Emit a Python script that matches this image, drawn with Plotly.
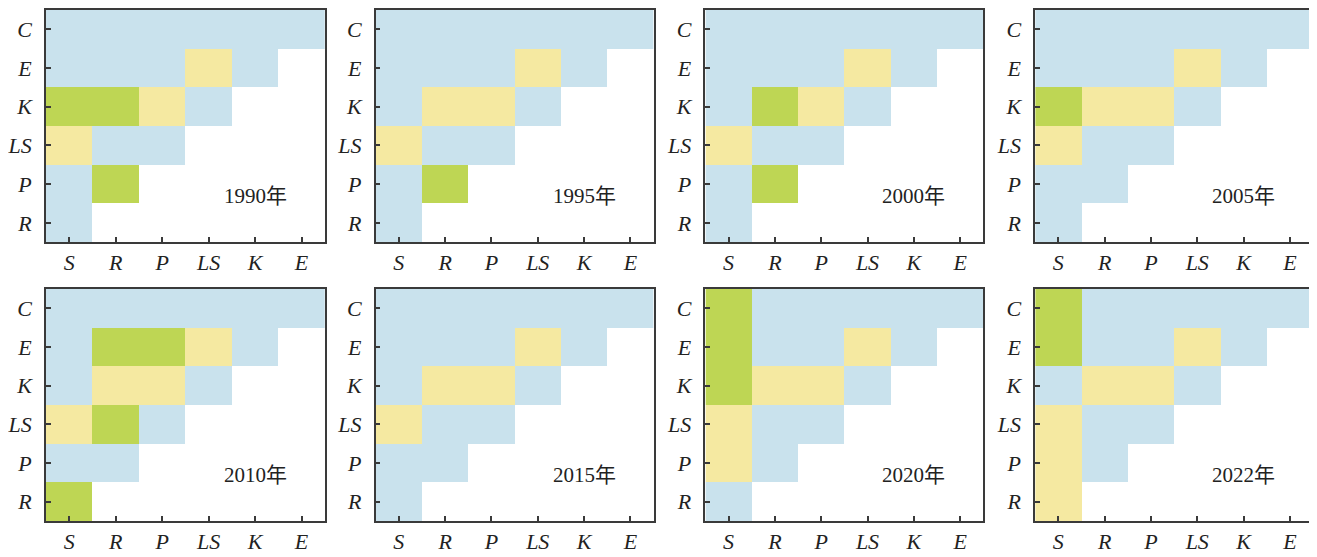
import plotly.graph_objects as go

x_labels = ["S", "R", "P", "LS", "K", "E"]
y_labels = ["C", "E", "K", "LS", "P", "R"]
years = ["1990年", "1995年", "2000年", "2005年", "2010年", "2015年", "2020年", "2022年"]

# 1 = blue, 2 = yellow, 3 = green, None = empty (rows top->bottom: C, E, K, LS, P, R)
N = None
z_1990 = [[1, 1, 1, 1, 1, 1], [1, 1, 1, 2, 1, N], [3, 3, 2, 1, N, N], [2, 1, 1, N, N, N], [1, 3, N, N, N, N], [1, N, N, N, N, N]]
z_1995 = [[1, 1, 1, 1, 1, 1], [1, 1, 1, 2, 1, N], [1, 2, 2, 1, N, N], [2, 1, 1, N, N, N], [1, 3, N, N, N, N], [1, N, N, N, N, N]]
z_2000 = [[1, 1, 1, 1, 1, 1], [1, 1, 1, 2, 1, N], [1, 3, 2, 1, N, N], [2, 1, 1, N, N, N], [1, 3, N, N, N, N], [1, N, N, N, N, N]]
z_2005 = [[1, 1, 1, 1, 1, 1], [1, 1, 1, 2, 1, N], [3, 2, 2, 1, N, N], [2, 1, 1, N, N, N], [1, 1, N, N, N, N], [1, N, N, N, N, N]]
z_2010 = [[1, 1, 1, 1, 1, 1], [1, 3, 3, 2, 1, N], [1, 2, 2, 1, N, N], [2, 3, 1, N, N, N], [1, 1, N, N, N, N], [3, N, N, N, N, N]]
z_2015 = [[1, 1, 1, 1, 1, 1], [1, 1, 1, 2, 1, N], [1, 2, 2, 1, N, N], [2, 1, 1, N, N, N], [1, 1, N, N, N, N], [1, N, N, N, N, N]]
z_2020 = [[3, 1, 1, 1, 1, 1], [3, 1, 1, 2, 1, N], [3, 2, 2, 1, N, N], [2, 1, 1, N, N, N], [2, 1, N, N, N, N], [1, N, N, N, N, N]]
z_2022 = [[3, 1, 1, 1, 1, 1], [3, 1, 1, 2, 1, N], [1, 2, 2, 1, N, N], [2, 1, 1, N, N, N], [2, 1, N, N, N, N], [2, N, N, N, N, N]]
z_all = [z_1990, z_1995, z_2000, z_2005, z_2010, z_2015, z_2020, z_2022]

BLUE = "#c9e2ed"
YELLOW = "#f5e9a1"
GREEN = "#bed654"
colorscale = [[0, BLUE], [1/3, BLUE], [1/3, YELLOW], [2/3, YELLOW], [2/3, GREEN], [1, GREEN]]

# page body has an 8px margin: shrink figure and offset positions accordingly
OFF = 8
W, H = 1317 - OFF, 557 - OFF
col_px = [(45, 324), (375, 653), (705, 983), (1035, 1313)]
row_px = [(8, 241), (288, 521)]

fig = go.Figure()
AX = "#3a3a3a"
tickfont = dict(family="Liberation Serif, Times New Roman, serif", size=22, color="#222")

for i, z in enumerate(z_all):
    r, c = divmod(i, 4)
    n = i + 1
    xa = "x" if n == 1 else f"x{n}"
    ya = "y" if n == 1 else f"y{n}"
    fig.add_trace(go.Heatmap(
        z=z, x=x_labels, y=y_labels, xaxis=xa, yaxis=ya,
        colorscale=colorscale, zmin=0.5, zmax=3.5, showscale=False,
        xgap=0, ygap=0, hoverongaps=False,
    ))
    x0, x1 = col_px[c][0] - OFF, col_px[c][1] - OFF
    y0, y1 = max(0, row_px[r][0] - OFF), row_px[r][1] - OFF
    xd = [x0 / W, x1 / W]
    yd = [1 - y1 / H, 1 - y0 / H]
    common = dict(showline=True, linecolor=AX, linewidth=1.5, mirror=True,
                  ticks="inside", ticklen=5, tickwidth=1.5, tickcolor=AX,
                  showgrid=False, zeroline=False, tickfont=tickfont,
                  tickprefix="<i>", ticksuffix="</i>", fixedrange=True)
    fig.layout[f"xaxis{'' if n == 1 else n}"] = dict(
        domain=xd, anchor=ya, categoryorder="array", categoryarray=x_labels,
        range=[-0.5, 5.5], ticklabelstandoff=0, **common)
    fig.layout[f"yaxis{'' if n == 1 else n}"] = dict(
        domain=yd, anchor=xa, categoryorder="array", categoryarray=y_labels,
        range=[5.5, -0.5], ticklabelstandoff=8, **common)
    fig.add_annotation(
        x=(x0 + 0.75 * (x1 - x0)) / W, y=1 - (y0 + 0.803 * (y1 - y0)) / H,
        xref="paper", yref="paper", text=years[i], showarrow=False,
        font=dict(family="Liberation Serif, Noto Sans CJK SC, serif", size=21, color="#222"),
        xanchor="center", yanchor="middle")

fig.update_layout(
    width=W, height=H, margin=dict(l=0, r=0, t=0, b=0),
    paper_bgcolor="white", plot_bgcolor="white", showlegend=False,
)

fig.write_html("out.html")
